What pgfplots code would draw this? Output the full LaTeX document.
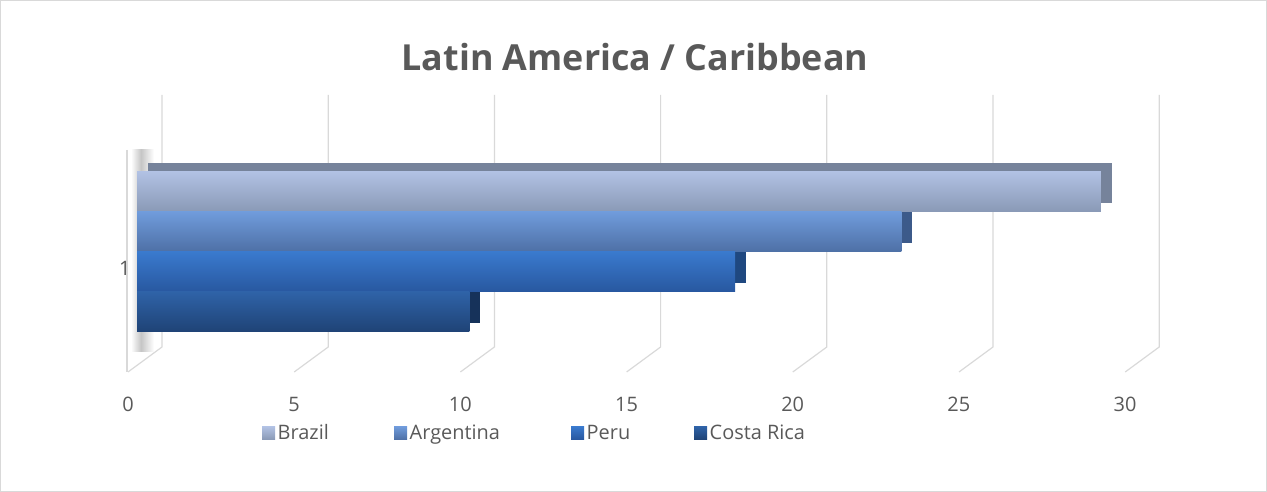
\documentclass[border=0pt]{standalone}
\usepackage{fontspec}
\setmainfont{Open Sans}
\usepackage{pgfplots}
\pgfplotsset{compat=1.18}
\definecolor{txt}{HTML}{595959}
\definecolor{gridc}{HTML}{D9D9D9}
\definecolor{brT}{HTML}{B2C2E4}
\definecolor{brB}{HTML}{8A9AB6}
\definecolor{brS}{HTML}{76839B}
\definecolor{arT}{HTML}{709CDC}
\definecolor{arB}{HTML}{4E70A6}
\definecolor{arS}{HTML}{3C5A8A}
\definecolor{peT}{HTML}{3A7ACE}
\definecolor{peB}{HTML}{2858A0}
\definecolor{peS}{HTML}{1F4880}
\definecolor{crT}{HTML}{2F63A8}
\definecolor{crB}{HTML}{1F4376}
\definecolor{crS}{HTML}{16325A}
\begin{document}
\begin{tikzpicture}[x=1bp,y=1bp]
\useasboundingbox (0,0) rectangle (1267,492);
\draw[gridc, line width=1bp] (0.5,0.5) rectangle (1266.5,491.5);
\foreach \k in {0,...,6}{
  \draw[gridc, line width=1.2bp] ({162+166.2*\k},397) -- ({162+166.2*\k},145) -- ({128+166.2*\k},120);
}
\draw[gridc, line width=1.2bp] (127,342) -- (127,120);
\shade[left color=white, right color=gray!45] (131,140) rectangle (141,342);
\shade[left color=gray!45, right color=white] (141,140) rectangle (154,342);
\node[font=\fontsize{36}{42}\selectfont\bfseries, text=txt] at (635,435) {Latin America / Caribbean};
\begin{axis}[
  at={(137bp,120bp)}, anchor=south west,
  width=997bp, height=277bp, scale only axis,
  xmin=0, xmax=30, ymin=-0.205, ymax=2.565,
  xbar, bar width=40bp,
  clip=false,
  axis line style={draw=none},
  major tick length=0pt,
  xtick={0,5,...,30}, ytick={1},
  tick label style={font=\fontsize{20}{24}\selectfont, text=txt},
  /pgf/number format/assume math mode=true,
  xticklabel style={xshift=-9bp, yshift=-22bp},
  yticklabel style={yshift=-16.5bp, xshift=-3bp},
  legend columns=4,
  legend style={at={(0.1254,-0.220)}, anchor=west, draw=none, fill=none, inner sep=0pt,
    column sep=0pt, nodes={inner sep=2.5bp},
    font=\fontsize{20}{24}\selectfont, text=txt},
  legend image code/.code={\fill[#1] (0bp,-6.5bp) rectangle (13bp,6.5bp);},
]
% depth faces (same values, drawn offset behind the front faces)
\addplot[forget plot, draw=none, fill=brS, bar shift=60bp, xshift=11bp, yshift=8bp] coordinates {(29,1)};
\addplot[forget plot, draw=none, fill=arS, bar shift=20bp, xshift=11bp, yshift=8bp] coordinates {(23,1)};
\addplot[forget plot, draw=none, fill=peS, bar shift=-20bp, xshift=11bp, yshift=8bp] coordinates {(18,1)};
\addplot[forget plot, draw=none, fill=crS, bar shift=-60bp, xshift=11bp, yshift=8bp] coordinates {(10,1)};
% front faces
\addplot[draw=none, top color=brT, bottom color=brB, bar shift=60bp] coordinates {(29,1)};
\addplot[draw=none, top color=arT, bottom color=arB, bar shift=20bp] coordinates {(23,1)};
\addplot[draw=none, top color=peT, bottom color=peB, bar shift=-20bp] coordinates {(18,1)};
\addplot[draw=none, top color=crT, bottom color=crB, bar shift=-60bp] coordinates {(10,1)};
\legend{\makebox[114bp][l]{Brazil}, \makebox[159bp][l]{Argentina}, \makebox[105bp][l]{Peru}, Costa Rica}
\end{axis}
\end{tikzpicture}
\end{document}
